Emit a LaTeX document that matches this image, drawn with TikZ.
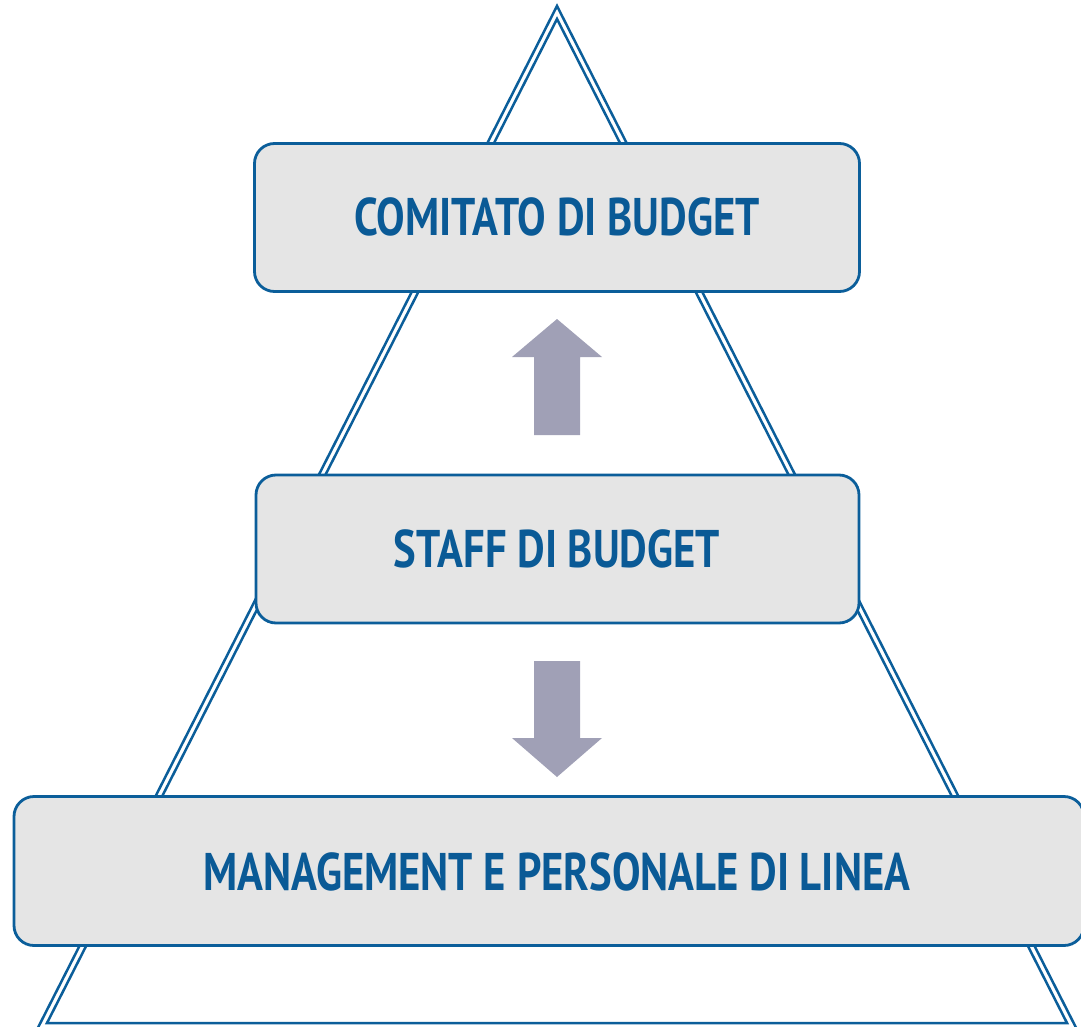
\documentclass[tikz,border=0pt]{standalone}
\usepackage{fontspec}
\setmainfont[FakeStretch=0.805]{PT Sans}
\definecolor{tribl}{HTML}{0B5E9A}
\definecolor{txtbl}{HTML}{0A5A96}
\definecolor{boxgr}{HTML}{E5E5E5}
\definecolor{arrgr}{HTML}{A0A0B6}
\tikzset{
  triline/.style={draw=tribl, line width=2.5pt, line join=miter},
  levelbox/.style={draw=tribl, fill=boxgr, line width=2.8pt, rounded corners=20pt, inner sep=0pt},
  leveltext/.style={text=txtbl, font=\bfseries\fontsize{53}{60}\selectfont, inner sep=0pt},
  blockarrow/.style={fill=arrgr, draw=none}
}
\begin{document}
\begin{tikzpicture}[x=1pt,y=-1pt]
\useasboundingbox (0,0) rectangle (1081,1027);
\clip (0,0) rectangle (1081,1027);
% double triangle outline
\draw[triline] (557,6) -- (1076.7,1029) -- (37.3,1029) -- cycle;
\draw[triline] (557,19) -- (1067,1023) -- (47,1023) -- cycle;
% boxes
\node[levelbox, minimum width=605pt, minimum height=148pt] (comitato) at (557,217.5) {};
\node[levelbox, minimum width=603pt, minimum height=148pt] (staff) at (557.5,549) {};
\node[levelbox, minimum width=1070pt, minimum height=149pt] (management) at (549,871) {};
% labels
\node[leveltext] (tcomitato) at (557,217) {COMITATO DI BUDGET};
\node[leveltext] (tstaff) at (557,549) {STAFF DI BUDGET};
\node[leveltext] (tmanagement) at (557,872) {MANAGEMENT E PERSONALE DI LINEA};
% block arrows
\coordinate (uparrow) at (557,319);
\coordinate (downarrow) at (557,777);
\fill[blockarrow] (uparrow) -- ++(45,38) -- ++(-22,0) -- ++(0,78) -- ++(-46,0) -- ++(0,-78) -- ++(-22,0) -- cycle;
\fill[blockarrow] (downarrow) -- ++(45,-39) -- ++(-22,0) -- ++(0,-77) -- ++(-46,0) -- ++(0,77) -- ++(-22,0) -- cycle;
\end{tikzpicture}
\end{document}
